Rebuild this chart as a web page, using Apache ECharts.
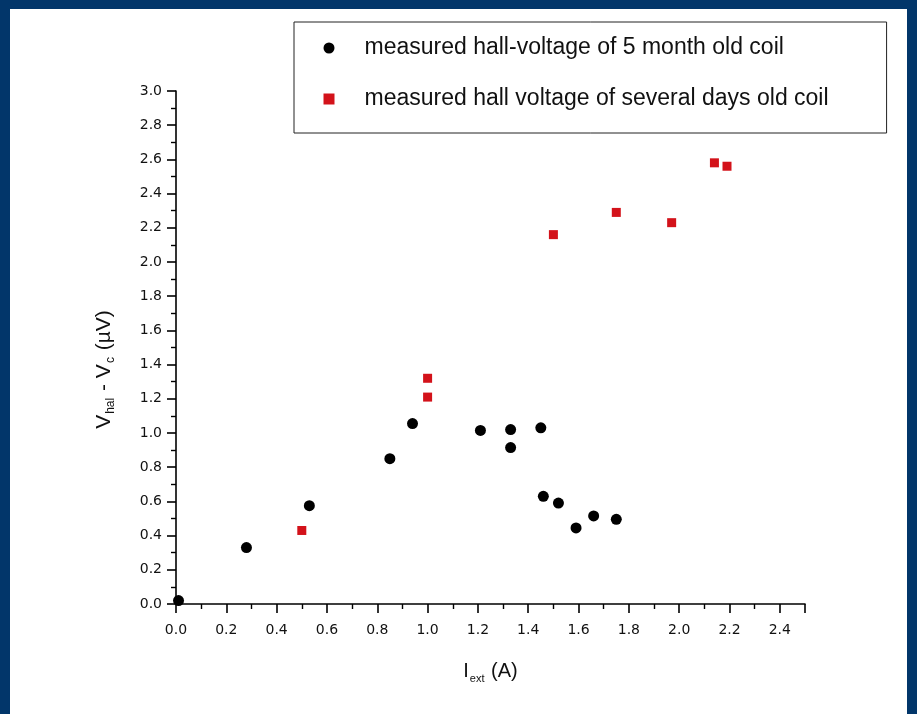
<!DOCTYPE html>
<html><head><meta charset="utf-8">
<script src="https://cdn.jsdelivr.net/npm/echarts@6/dist/echarts.min.js"></script>
<style>
html,body{margin:0;padding:0;background:#02366a;width:917px;height:714px;overflow:hidden}
#panel{position:absolute;left:10px;top:9px;width:897px;height:705px;background:#fff}
#chart{position:absolute;left:0;top:0;width:917px;height:714px}
</style></head><body><div id="panel"></div><div id="chart"></div>
<script>
// 5 month old coil (black circles)
const oldCoilCurrent = [0.01, 0.28, 0.53, 0.85, 0.94, 1.21, 1.33, 1.33, 1.45, 1.46, 1.52, 1.59, 1.66, 1.75];
const oldCoilVoltage = [0.02, 0.33, 0.575, 0.85, 1.055, 1.015, 1.02, 0.915, 1.03, 0.63, 0.59, 0.445, 0.515, 0.495];
// several days old coil (red squares)
const newCoilCurrent = [0.50, 1.00, 1.00, 1.50, 1.75, 1.97, 2.14, 2.19];
const newCoilVoltage = [0.43, 1.21, 1.32, 2.16, 2.29, 2.23, 2.58, 2.56];
const seriesNames = ['measured hall-voltage of 5 month old coil', 'measured hall voltage of several days old coil'];
const xTickLabels = ['0.0','0.2','0.4','0.6','0.8','1.0','1.2','1.4','1.6','1.8','2.0','2.2','2.4'];
const yTickLabels = ['0.0','0.2','0.4','0.6','0.8','1.0','1.2','1.4','1.6','1.8','2.0','2.2','2.4','2.6','2.8','3.0'];

const pairs = (xs, ys) => xs.map((x, i) => [x, ys[i]]);
const tickFmt = (labels) => (v) => { const i = Math.round(v / 0.2); return Math.abs(v - i * 0.2) < 1e-6 ? (labels[i] || '') : ''; };

const chart = echarts.init(document.getElementById('chart'), null, {renderer: 'canvas'});
const axisCommon = {
  axisLine: {show: true, onZero: false, lineStyle: {color: '#000', width: 1.6}},
  axisTick: {show: true, inside: false, length: 9, lineStyle: {color: '#000', width: 1.6}},
  minorTick: {show: true, splitNumber: 2, length: 5, lineStyle: {color: '#000', width: 1.4}},
  splitLine: {show: false},
  minorSplitLine: {show: false}
};
chart.setOption({
  backgroundColor: 'transparent',
  animation: false,
  grid: {left: 176, top: 91, width: 629, height: 513, containLabel: false},
  legend: {
    left: 294, top: 22, orient: 'vertical',
    padding: [13, 58, 21, 29.5],
    itemWidth: 11, itemHeight: 11, itemGap: 25,
    borderColor: '#222', borderWidth: 1,
    selectedMode: false,
    textStyle: {fontFamily: 'Liberation Sans', fontSize: 23, color: '#111', lineHeight: 26, padding: [0, 0, 0, 25]},
    data: [{name: seriesNames[0], icon: 'circle', itemStyle: {opacity: 1}}, {name: seriesNames[1], icon: 'rect', itemStyle: {opacity: 1}}]
  },
  xAxis: Object.assign({}, axisCommon, {
    type: 'value', min: 0, max: 2.5, interval: 0.2,
    name: '{m|I}{s|ext}{m| (A)}', nameLocation: 'middle', nameGap: 55,
    nameTextStyle: {rich: {m: {fontFamily: 'Liberation Sans', fontSize: 20, color: '#111'}, s: {fontFamily: 'Liberation Sans', fontSize: 11, color: '#111', verticalAlign: 'bottom', padding: [14, 1, 0, 1]}}},
    axisLabel: {margin: 19, fontFamily: 'DejaVu Sans', fontSize: 14, color: '#111', showMaxLabel: false, formatter: tickFmt(xTickLabels)}
  }),
  yAxis: Object.assign({}, axisCommon, {
    type: 'value', min: 0, max: 3.0, interval: 0.2,
    name: '{m|V}{s|hal}{m| - V}{s|c}{m| (µV)}', nameLocation: 'middle', nameGap: 59, nameRotate: 90,
    nameTextStyle: {padding: [0, 44, 0, 0], rich: {m: {fontFamily: 'Liberation Sans', fontSize: 21, color: '#111'}, s: {fontFamily: 'Liberation Sans', fontSize: 12, color: '#111', verticalAlign: 'bottom', padding: [14, 1, 0, 1]}}},
    axisLabel: {margin: 14, fontFamily: 'DejaVu Sans', fontSize: 14, color: '#111', formatter: tickFmt(yTickLabels)}
  }),
  series: [
    {name: seriesNames[0], type: 'scatter', symbol: 'circle', symbolSize: 11, itemStyle: {color: '#000', opacity: 1}, data: pairs(oldCoilCurrent, oldCoilVoltage), clip: false, z: 3},
    {name: seriesNames[1], type: 'scatter', symbol: 'rect', symbolSize: 9, itemStyle: {color: '#d3121a', opacity: 1}, data: pairs(newCoilCurrent, newCoilVoltage), clip: false, z: 3}
  ]
});
</script></body></html>
